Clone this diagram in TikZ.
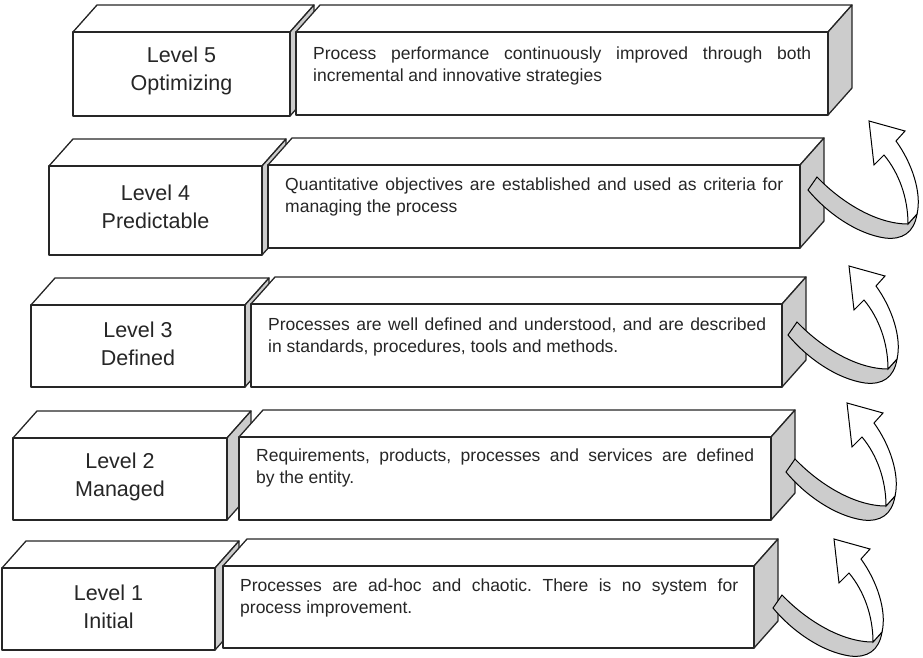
\documentclass[tikz,border=0pt]{standalone}
\usepackage{fontspec}
\setmainfont{Liberation Sans}
\frenchspacing
\definecolor{sidegray}{gray}{0.8}
% front face, top face and grey side face of one block (pixels, y down)
\newcommand\cuboid[4]{%
  \draw[boxline,fill=white] (#1,#2) -- ++(24,-27) -- (#3+24,#2-27) -- (#3,#2) -- cycle;
  \draw[boxline,fill=sidegray] (#3,#2) -- (#3+24,#2-27) -- (#3+24,#4-27) -- (#3,#4) -- cycle;
  \draw[boxline,fill=white] (#1,#2) rectangle (#3,#4);
}
\tikzset{
  boxline/.style={draw=black!85, line width=1.3pt, line join=round},
  lvl/.style={font=\fontsize{21.5}{28}\selectfont, align=center, inner sep=0pt, text=black!85},
  desc/.style={font=\fontsize{17.5}{22}\selectfont, align=justify, text width=498pt,
    inner sep=0pt, anchor=north west, text=black!85},
  pics/turnarrow/.style={code={
    \draw[line width=1pt, fill=sidegray] (15,69) .. controls (40,95) and (75,116) .. (106,116)
      -- (115,106) .. controls (112,125) and (100,132) .. (83,130)
      .. controls (55,126) and (25,105) .. (6,82) -- cycle;
    \draw[line width=1pt, fill=white] (106,116) .. controls (106,90) and (97,65) .. (82,47)
      -- (72,57) -- (67,13) -- (103,23) -- (94,33)
      .. controls (110,55) and (120,85) .. (115,106) -- cycle;
  }}
}
\begin{document}
\begin{tikzpicture}[x=1pt, y=-1pt]
\useasboundingbox (0,0) rectangle (923,657);

% level 5
\cuboid{73}{32}{290}{116}
\cuboid{296}{32}{828}{115}
\node[lvl] (lvl5) at (181.5,71) {Level 5\\Optimizing};
\node[desc] (txt5) at (313,47) {Process performance continuously improved through both\linebreak
  incremental and innovative strategies};

% level 4
\cuboid{49}{166}{262}{255}
\cuboid{268}{165}{800}{248}
\node[lvl] (lvl4) at (155.5,207) {Level 4\\Predictable};
\node[desc] (txt4) at (285,178) {Quantitative objectives are established and used as criteria for\linebreak
  managing the process};
\coordinate (a4) at (802,108);
\pic at (a4) {turnarrow};

% level 3
\cuboid{31}{305}{245}{387}
\cuboid{251}{304}{782}{387}
\node[lvl] (lvl3) at (138,344) {Level 3\\Defined};
\node[desc] (txt3) at (268,318) {Processes are well defined and understood, and are described\linebreak
  in standards, procedures, tools and methods.};
\coordinate (a3) at (782,253);
\pic at (a3) {turnarrow};

% level 2
\cuboid{13}{438}{227}{520}
\cuboid{239}{437}{771}{520}
\node[lvl] (lvl2) at (120,477) {Level 2\\Managed};
\node[desc] (txt2) at (256,449) {Requirements, products, processes and services are defined\linebreak
  by the entity.};
\coordinate (a2) at (780,390);
\pic at (a2) {turnarrow};

% level 1
\cuboid{2}{568}{215}{650}
\cuboid{223}{566}{754}{648}
\node[lvl] (lvl1) at (108.5,607) {Level 1\\Initial};
\node[desc] (txt1) at (240,579) {Processes are ad-hoc and chaotic. There is no system for\linebreak
  process improvement.};
\coordinate (a1) at (767,526);
\pic at (a1) {turnarrow};
\end{tikzpicture}
\end{document}
